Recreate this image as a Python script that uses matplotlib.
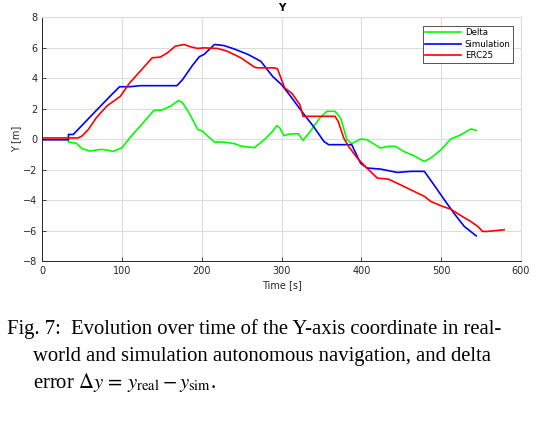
import matplotlib
matplotlib.use('Agg')
import matplotlib.pyplot as plt

plt.rcParams['font.family'] = ['DejaVu Sans']
plt.rcParams['mathtext.fontset'] = 'stix'

# Simulation (blue)
sim_t = [0, 33, 33, 39, 73, 85, 97, 110, 123, 169, 176, 188, 197, 203, 216, 228, 241,
         258, 274, 289, 300, 310, 327, 340, 353, 359, 388, 399, 407, 424, 445, 462,
         479, 491, 504, 516, 529, 537, 544]
sim_y = [-0.05, -0.05, 0.3, 0.3, 2.15, 2.8, 3.43, 3.43, 3.5, 3.5, 3.9, 4.8, 5.4, 5.55,
         6.2, 6.13, 5.9, 5.55, 5.1, 4.1, 3.57, 2.9, 1.7, 0.83, -0.15, -0.37, -0.37,
         -1.58, -1.9, -1.97, -2.19, -2.12, -2.12, -3.0, -3.98, -4.86, -5.73, -6.06, -6.35]

# ERC25 (red)
erc_t = [0, 45, 50, 58, 68, 81, 98, 110, 123, 138, 148, 157, 167, 178, 186, 195, 203,
         220, 232, 249, 266, 270, 291, 295, 300, 304, 313, 323, 327, 367, 371, 378,
         384, 395, 405, 420, 434, 449, 462, 479, 487, 500, 512, 525, 537, 546, 552,
         558, 579]
erc_y = [0.07, 0.07, 0.2, 0.63, 1.4, 2.16, 2.8, 3.7, 4.45, 5.33, 5.37, 5.65, 6.09, 6.2,
         6.05, 5.94, 5.98, 5.94, 5.76, 5.33, 4.72, 4.67, 4.67, 4.6, 3.9, 3.35, 3.0,
         2.25, 1.49, 1.49, 1.16, 0.07, -0.48, -1.25, -1.8, -2.56, -2.63, -3.0, -3.33,
         -3.76, -4.09, -4.38, -4.6, -5.03, -5.4, -5.73, -6.06, -6.06, -5.95]

# Delta (green)
dlt_t = [33, 33, 43, 50, 60, 73, 81, 89, 100, 110, 123, 140, 150, 161, 171, 176, 184,
         195, 201, 205, 216, 228, 241, 249, 266, 279, 289, 294, 298, 303, 310, 321,
         327, 336, 348, 357, 367, 374, 382, 388, 399, 407, 424, 434, 443, 453, 466,
         479, 487, 500, 512, 525, 537, 544]
dlt_y = [0.0, -0.2, -0.28, -0.63, -0.79, -0.68, -0.72, -0.81, -0.57, 0.09, 0.85, 1.88,
         1.9, 2.16, 2.53, 2.38, 1.72, 0.63, 0.52, 0.31, -0.2, -0.2, -0.3, -0.46, -0.57,
         -0.02, 0.52, 0.88, 0.72, 0.22, 0.33, 0.35, -0.09, 0.5, 1.38, 1.82, 1.82, 1.38,
         -0.04, -0.3, 0.0, -0.04, -0.59, -0.48, -0.48, -0.81, -1.1, -1.47, -1.25, -0.7,
         0.0, 0.28, 0.66, 0.57]

fig = plt.figure(figsize=(5.58, 4.21), dpi=100)
ax = fig.add_axes([0.0755, 0.38, 0.858, 0.5795])

ax.plot(dlt_t, dlt_y, color=(0, 1, 0), lw=1.2, label='Delta')
ax.plot(sim_t, sim_y, color=(0, 0, 1), lw=1.2, label='Simulation')
ax.plot(erc_t, erc_y, color=(1, 0, 0), lw=1.2, label='ERC25')

ax.set_xlim(0, 600)
ax.set_ylim(-8, 8)
ax.set_xticks(range(0, 601, 100))
ax.set_yticks(range(-8, 9, 2))
ax.grid(True, color='#dcdcdc', lw=0.8)
ax.set_axisbelow(True)
ax.tick_params(labelsize=7, colors='#262626', length=3, width=0.6, direction='in',
               top=False, right=False)
for s in ['left', 'bottom']:
    ax.spines[s].set_color('#262626')
    ax.spines[s].set_linewidth(0.7)
for s in ['top', 'right']:
    ax.spines[s].set_color('#dcdcdc')
    ax.spines[s].set_linewidth(0.8)

ax.set_title('Y', fontsize=7.5, fontweight='bold', pad=4)
ax.set_xlabel('Time [s]', fontsize=7, color='#262626', labelpad=3)
ax.set_ylabel('Y [m]', fontsize=7, color='#262626', labelpad=1)

leg = ax.legend(loc='upper right', fontsize=6.2, handlelength=4.2, handletextpad=0.4,
                borderpad=0.3, labelspacing=0.3, fancybox=False,
                bbox_to_anchor=(0.993, 0.982))
leg.get_frame().set_edgecolor('#262626')
leg.get_frame().set_linewidth(0.7)

cap = dict(fontsize=14.9, family='Liberation Serif', va='center', ha='left')
fig.text(0.013, 1 - 329 / 421, 'Fig. 7:  Evolution over time of the Y-axis coordinate in real-', **cap)
fig.text(0.059, 1 - 356 / 421, 'world and simulation autonomous navigation, and delta', **cap)
fig.text(0.059, 1 - 382 / 421, r'error $\Delta y\, =\, y_{\mathrm{real}} - y_{\mathrm{sim}}$.', **cap)

fig.savefig('out.png', dpi=100)
